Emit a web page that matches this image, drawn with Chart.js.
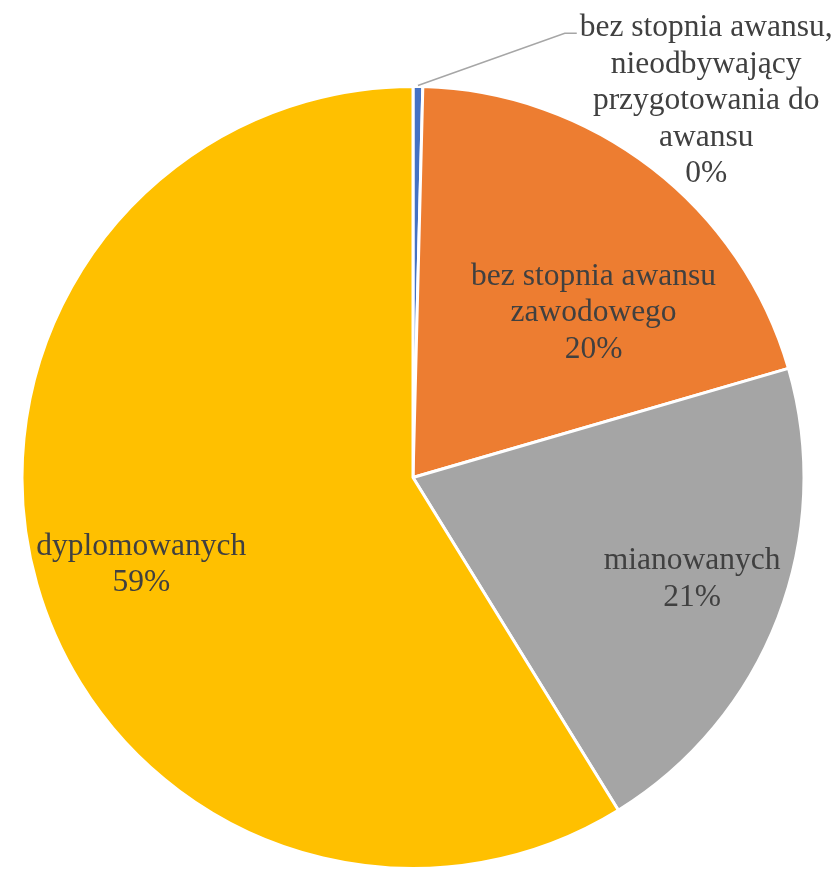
<!DOCTYPE html>
<html>
<head>
<meta charset="utf-8">
<script src="https://cdn.jsdelivr.net/npm/chart.js@4/dist/chart.umd.min.js"></script>
<style>
  html, body { margin: 0; padding: 0; background: #ffffff; }
  #wrap { width: 840px; height: 870px; }
</style>
</head>
<body>
<div id="wrap"><canvas id="c" width="840" height="870"></canvas></div>
<script>
const categories = [
  'bez stopnia awansu, nieodbywający przygotowania do awansu',
  'bez stopnia awansu zawodowego',
  'mianowanych',
  'dyplomowanych'
];
const labelLines = [
  ['bez stopnia awansu,', 'nieodbywający', 'przygotowania do', 'awansu'],
  ['bez stopnia awansu', 'zawodowego'],
  ['mianowanych'],
  ['dyplomowanych']
];
const values = [0.4, 20.1, 20.7, 58.8];
const colors = ['#4472C4', '#ED7D31', '#A5A5A5', '#FFC000'];

// label placement: angle offset (deg) from slice mid-angle, radius fraction
const labelPlacement = [
  { dAngle: 37.2, rFrac: 1.22, leader: true },
  { dAngle: 10.0, rFrac: 0.625 },
  { dAngle: -1.0, rFrac: 0.76 },
  { dAngle: -2.0, rFrac: 0.73 }
];

const labelPlugin = {
  id: 'sliceLabels',
  afterDatasetsDraw(chart) {
    const ctx = chart.ctx;
    const meta = chart.getDatasetMeta(0);
    const data = chart.data.datasets[0].data;
    const total = data.reduce((a, b) => a + b, 0);
    const fontSize = 31.5;
    const lineH = 36.5;
    ctx.save();
    ctx.font = fontSize + 'px "Liberation Serif", "Times New Roman", serif';
    ctx.fillStyle = '#404040';
    ctx.textAlign = 'center';
    ctx.textBaseline = 'middle';
    meta.data.forEach((arc, i) => {
      const p = arc.getProps(['x', 'y', 'startAngle', 'endAngle', 'outerRadius'], true);
      const pl = labelPlacement[i];
      const mid = (p.startAngle + p.endAngle) / 2 + pl.dAngle * Math.PI / 180;
      const cx = p.x + Math.cos(mid) * p.outerRadius * pl.rFrac;
      const cy = p.y + Math.sin(mid) * p.outerRadius * pl.rFrac;
      const lines = labelLines[i].concat([Math.round(data[i] / total * 100) + '%']);
      const y0 = cy - (lines.length - 1) * lineH / 2;
      lines.forEach((t, k) => ctx.fillText(t, cx, y0 + k * lineH));
      if (pl.leader) {
        const midA = (p.startAngle + p.endAngle) / 2;
        const sx = p.x + Math.cos(midA) * (p.outerRadius + 1);
        const sy = p.y + Math.sin(midA) * (p.outerRadius + 1);
        const w = ctx.measureText(lines[0]).width;
        const ex = cx - w / 2 - 3;
        const ey = y0 + 5;
        ctx.beginPath();
        ctx.strokeStyle = '#A6A6A6';
        ctx.lineWidth = 1.5;
        ctx.moveTo(sx, sy);
        ctx.lineTo(ex - 12, ey);
        ctx.lineTo(ex, ey);
        ctx.stroke();
      }
    });
    ctx.restore();
  }
};

new Chart(document.getElementById('c'), {
  type: 'pie',
  data: {
    labels: categories,
    datasets: [{
      data: values,
      backgroundColor: colors,
      borderColor: '#ffffff',
      borderWidth: 3
    }]
  },
  options: {
    responsive: false,
    animation: false,
    layout: { padding: { top: 85, bottom: 0, left: 0, right: 14 } },
    plugins: {
      legend: { display: false },
      title: { display: false },
      tooltip: { enabled: false }
    }
  },
  plugins: [labelPlugin]
});
</script>
</body>
</html>
